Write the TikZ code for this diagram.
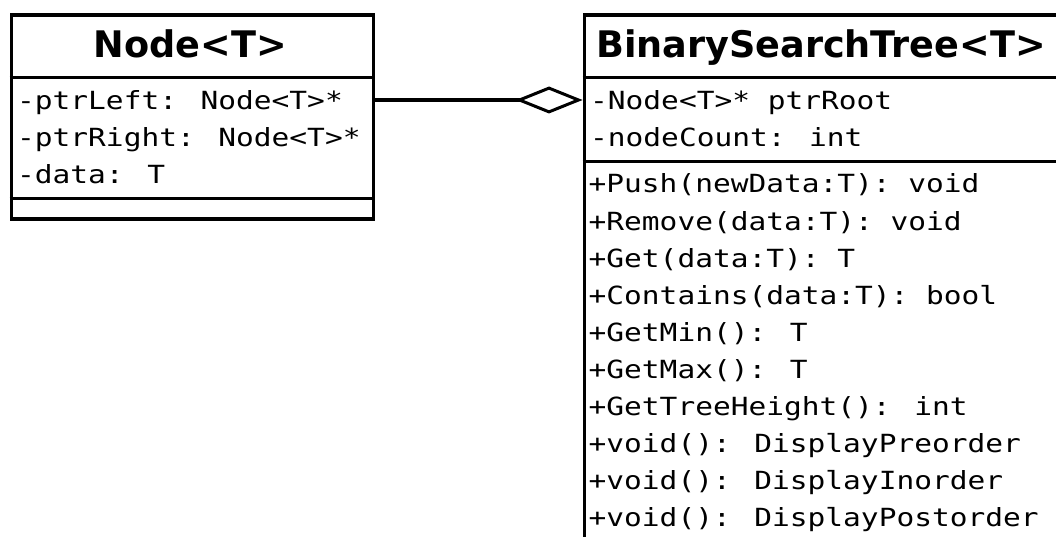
\documentclass[tikz,border=0pt]{standalone}
\usepackage{fontspec}
\newfontfamily\ttlfont{DejaVu Sans}
\newfontfamily\memfont{DejaVu Sans Mono}[FakeStretch=1.18]
\usetikzlibrary{arrows.meta}
\begin{document}
\begin{tikzpicture}[x=1pt,y=-1pt,
  umlbox/.style={draw, line width=3.5pt, fill=white, inner sep=0pt, anchor=north west},
  sepline/.style={line width=3.5pt},
  ttl/.style={inner sep=0pt, anchor=base, font=\ttlfont\bfseries\fontsize{36.6}{40}\selectfont},
  mem/.style={inner sep=0pt, anchor=base west, font=\memfont\fontsize{25}{30}\selectfont},
  link/.style={line width=3.5pt}]
\useasboundingbox (0,0) rectangle (1056,537);
\clip (0,0) rectangle (1056,537);
% Node<T> class
\node[umlbox, minimum width=362pt, minimum height=204pt] (nodebox) at (9.5,13.5) {};
\draw[sepline] ([yshift=-64pt]nodebox.north west) -- ([yshift=-64pt]nodebox.north east);
\draw[sepline] ([yshift=-185pt]nodebox.north west) -- ([yshift=-185pt]nodebox.north east);
\node[ttl] (nodetitle) at (190.5,57.5) {Node<T>};
\node[mem] (nl1) at (17,110) {-ptrLeft: Node<T>*};
\node[mem] (nl2) at (17,147) {-ptrRight: Node<T>*};
\node[mem] (nl3) at (17,184) {-data: T};
% BinarySearchTree<T> class
\node[umlbox, minimum width=477pt, minimum height=540pt] (bstbox) at (582.5,13.5) {};
\draw[sepline] ([yshift=-64pt]bstbox.north west) -- ([yshift=-64pt]bstbox.north east);
\draw[sepline] ([yshift=-148pt]bstbox.north west) -- ([yshift=-148pt]bstbox.north east);
\node[ttl] (bsttitle) at (821,57.5) {BinarySearchTree<T>};
\node[mem] (ba1) at (590,110) {-Node<T>* ptrRoot};
\node[mem] (ba2) at (590,147) {-nodeCount: int};
\node[mem] (bm1) at (588.5,193) {+Push(newData:T): void};
\node[mem] (bm2) at (588.5,230.1) {+Remove(data:T): void};
\node[mem] (bm3) at (588.5,267.2) {+Get(data:T): T};
\node[mem] (bm4) at (588.5,304.3) {+Contains(data:T): bool};
\node[mem] (bm5) at (588.5,341.4) {+GetMin(): T};
\node[mem] (bm6) at (588.5,378.5) {+GetMax(): T};
\node[mem] (bm7) at (588.5,415.6) {+GetTreeHeight(): int};
\node[mem] (bm8) at (588.5,452.7) {+void(): DisplayPreorder};
\node[mem] (bm9) at (588.5,489.8) {+void(): DisplayInorder};
\node[mem] (bm10) at (588.5,526.9) {+void(): DisplayPostorder};
% aggregation
\coordinate (linky) at (0,100);
\draw[link, -{Diamond[open, length=67pt, width=27pt, line width=3pt]}] (nodebox.east |- linky) -- (bstbox.west |- linky);
\end{tikzpicture}
\end{document}
